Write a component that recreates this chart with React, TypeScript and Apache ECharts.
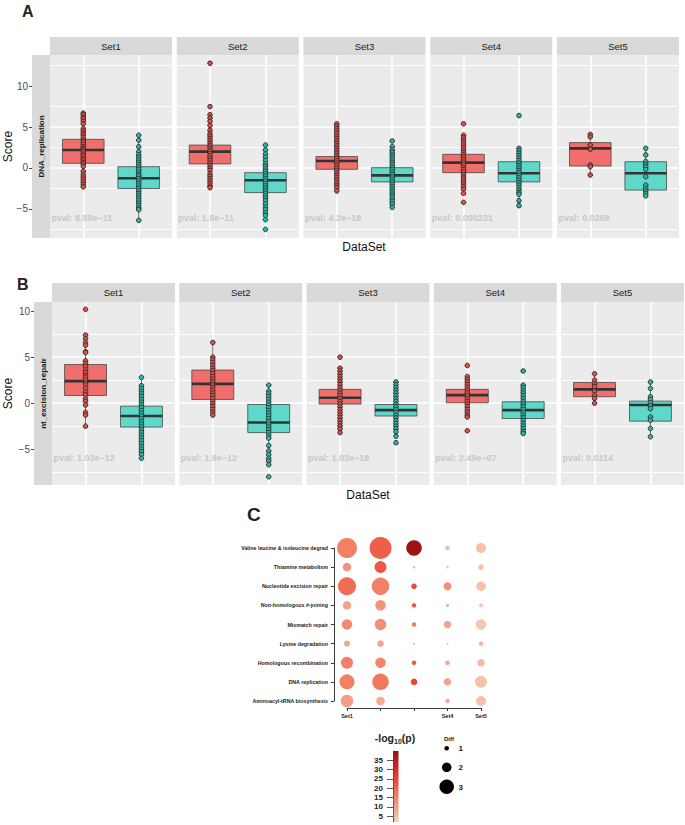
import React, { useEffect, useRef } from 'react';
import * as echarts from 'echarts';

// ---------------- data ----------------
const SETS = ['Set1', 'Set2', 'Set3', 'Set4', 'Set5'];
const GROUP_POS = [1, 2]; // red group, teal group

const A_ROW_LABEL = 'DNA_replication';
const B_ROW_LABEL = 'nt_excision_repair';
const Y_TICKS = [-5, 0, 5, 10];

const A_PVAL = ['pval: 8.88e\u221211', 'pval: 1.8e\u221211', 'pval: 4.2e\u221218', 'pval: 0.000231', 'pval: 0.0268'];
const B_PVAL = ['pval: 1.03e\u221212', 'pval: 1.9e\u221212', 'pval: 1.03e\u221218', 'pval: 2.49e\u221207', 'pval: 0.0114'];

// box stats [low whisker, q1, median, q3, high whisker]
const A_BOX_RED = [
  [-2.3, 0.57, 2.2, 3.5, 6.7],
  [-2.4, 0.5, 2.0, 2.8, 6.1],
  [-2.5, -0.16, 0.85, 1.4, 3.7],
  [-3.1, -0.57, 0.65, 1.67, 4.0],
  [-0.85, 0.24, 2.4, 3.1, 4.1],
];
const A_BOX_TEAL = [
  [-6.4, -2.5, -1.26, 0.16, 4.0],
  [-6.3, -3.0, -1.5, -0.57, 2.8],
  [-4.2, -1.7, -0.9, 0.04, 2.6],
  [-4.6, -1.7, -0.65, 0.77, 2.4],
  [-3.4, -2.7, -0.65, 0.77, 2.4],
];
const A_PTS_RED = [
  [6.7, 6.5, 6.2, 6.0, 5.7, 5.4, 4.8, 4.5, 4.2, 4.0, 3.7, 3.4, 3.2, 2.9, 2.6, 2.4, 2.2, 2.0, 1.7, 1.5, 1.2, 1.0, 0.7, 0.5, 0.2, -0.4, -0.8, -1.1, -1.4, -1.7, -2.0, -2.3],
  [12.8, 7.5, 6.5, 6.1, 5.7, 5.2, 4.6, 4.2, 3.9, 3.6, 3.3, 3.0, 2.7, 2.4, 2.1, 1.8, 1.5, 1.2, 0.9, 0.6, 0.3, 0.0, -0.3, -0.7, -1.0, -1.3, -1.6, -1.9, -2.2, -2.4],
  [5.4, 5.1, 4.8, 4.5, 4.2, 3.9, 3.6, 3.3, 3.0, 2.7, 2.4, 2.1, 1.8, 1.5, 1.2, 0.9, 0.6, 0.3, 0.0, -0.3, -0.6, -0.9, -1.2, -1.5, -1.8, -2.1, -2.4, -2.8],
  [5.4, 4.0, 3.7, 3.4, 3.1, 2.8, 2.5, 2.2, 1.9, 1.6, 1.3, 1.0, 0.7, 0.4, 0.1, -0.2, -0.5, -0.8, -1.1, -1.4, -1.7, -2.0, -2.3, -2.6, -3.1, -4.2],
  [4.1, 3.8, 2.8, 2.3, 0.37, 0.16, -0.85],
];
const A_PTS_TEAL = [
  [4.0, 3.4, 2.6, 2.0, 1.6, 1.3, 1.0, 0.7, 0.4, 0.1, -0.2, -0.5, -0.8, -1.0, -1.3, -1.6, -1.9, -2.2, -2.5, -2.8, -3.1, -3.4, -3.7, -4.0, -4.3, -4.6, -4.9, -5.1, -6.4],
  [2.8, 2.2, 1.7, 1.3, 0.9, 0.5, 0.2, -0.1, -0.4, -0.7, -1.0, -1.3, -1.6, -1.9, -2.2, -2.5, -2.8, -3.1, -3.4, -3.7, -4.0, -4.4, -4.8, -5.1, -5.5, -5.8, -6.3, -7.5],
  [3.3, 2.6, 2.2, 1.9, 1.6, 1.3, 1.0, 0.7, 0.4, 0.1, -0.2, -0.5, -0.8, -1.1, -1.4, -1.7, -2.0, -2.3, -2.6, -2.9, -3.2, -3.5, -3.8, -4.1, -4.4, -4.8],
  [6.4, 2.4, 2.1, 1.8, 1.5, 1.2, 0.9, 0.6, 0.3, 0.0, -0.3, -0.6, -0.9, -1.2, -1.5, -1.8, -2.1, -2.4, -2.7, -3.0, -3.2, -4.0, -4.6],
  [2.4, 1.6, 0.8, 0.45, 0.16, -0.17, -1.06, -2.1, -2.5, -2.8, -3.1, -3.4],
];

const B_BOX_RED = [
  [-2.5, 0.83, 2.4, 4.2, 7.3],
  [-1.3, 0.4, 2.1, 3.6, 6.6],
  [-2.4, -0.1, 0.58, 1.5, 3.8],
  [-1.5, 0.04, 0.87, 1.5, 2.9],
  [0.0, 0.7, 1.5, 2.25, 3.2],
];
const B_BOX_TEAL = [
  [-6.0, -2.6, -1.4, -0.33, 2.8],
  [-6.7, -3.2, -2.1, -0.15, 1.96],
  [-3.2, -1.4, -0.76, -0.15, 1.7],
  [-3.3, -1.67, -0.76, 0.15, 1.96],
  [-3.65, -1.96, -0.2, 0.22, 2.3],
];
const B_PTS_RED = [
  [10.2, 7.4, 7.0, 6.6, 6.3, 5.6, 5.5, 4.6, 4.3, 4.0, 3.6, 3.3, 3.0, 2.8, 2.5, 2.2, 2.0, 1.6, 1.2, 0.9, 0.5, 0.2, -0.2, -1.0, -1.3, -2.5],
  [6.6, 5.0, 4.7, 4.4, 4.1, 3.8, 3.5, 3.2, 2.9, 2.6, 2.3, 2.0, 1.7, 1.4, 1.1, 0.8, 0.5, 0.2, -0.1, -0.4, -0.7, -1.0, -1.3],
  [5.0, 3.8, 3.5, 3.2, 2.9, 2.6, 2.3, 2.0, 1.7, 1.4, 1.1, 0.8, 0.5, 0.2, -0.1, -0.4, -0.7, -1.0, -1.3, -1.6, -1.9, -2.2, -2.5, -2.8, -3.2],
  [4.1, 2.9, 2.6, 2.3, 2.0, 1.7, 1.4, 1.1, 0.8, 0.5, 0.2, -0.1, -0.4, -0.7, -1.0, -1.3, -1.5, -3.0],
  [3.2, 2.5, 2.1, 1.8, 1.3, 0.87, 0.5, 0.0],
];
const B_PTS_TEAL = [
  [2.8, 1.9, 1.6, 1.3, 1.0, 0.7, 0.4, 0.1, -0.2, -0.5, -0.8, -1.1, -1.4, -1.7, -2.0, -2.3, -2.6, -2.9, -3.2, -3.5, -3.8, -4.1, -4.4, -4.7, -5.0, -5.3, -5.6, -6.0],
  [1.96, 1.3, 1.0, 0.7, 0.4, 0.1, -0.2, -0.5, -0.8, -1.1, -1.4, -1.7, -2.0, -2.3, -2.6, -2.9, -3.2, -3.5, -3.8, -4.6, -5.2, -5.6, -6.0, -6.3, -6.7, -8.0],
  [2.3, 2.0, 1.7, 1.4, 1.1, 0.8, 0.5, 0.2, -0.1, -0.4, -0.7, -1.0, -1.3, -1.6, -1.9, -2.2, -2.5, -2.8, -3.1, -3.6, -4.3],
  [3.5, 1.96, 1.7, 1.4, 1.1, 0.8, 0.5, 0.2, -0.1, -0.4, -0.7, -1.0, -1.3, -1.6, -1.9, -2.2, -2.5, -2.8, -3.1, -3.3],
  [2.3, 1.6, 0.7, 0.4, 0.04, -0.3, -0.6, -1.5, -1.85, -2.75, -3.65],
];

// panel C (rows listed top to bottom)
const PATHWAYS = [
  'Valine leucine & isoleucine degrad',
  'Thiamine metabolism',
  'Nucleotide excision repair',
  'Non-homologous #-joining',
  'Mismatch repair',
  'Lysine degradation',
  'Homologous recombination',
  'DNA replication',
  'Aminoacyl-tRNA biosynthesis',
];
const C_X_TICKS = ['Set1', '', '', 'Set4', 'Set5'];
const C_LOGP = [
  [16, 21, 39, 5, 4],
  [12, 22, 5, 4, 4],
  [19, 16, 24, 13, 4],
  [9, 12, 22, 8, 3],
  [14, 13, 17, 9, 3],
  [9, 9, 5, 5, 6],
  [16, 15, 22, 9, 5],
  [16, 17, 25, 9, 4],
  [10, 8, 4, 8, 4],
];
const C_DIFF = [
  [4.1, 4.5, 3.2, 1.0, 2.1],
  [1.8, 2.5, 0.6, 0.6, 1.2],
  [3.7, 3.6, 1.2, 1.7, 2.0],
  [1.8, 2.2, 1.0, 0.7, 0.9],
  [2.2, 2.4, 1.0, 1.6, 2.2],
  [1.3, 1.4, 0.5, 0.5, 1.0],
  [2.5, 2.2, 1.0, 1.0, 1.6],
  [3.1, 3.4, 1.4, 1.6, 2.5],
  [2.6, 1.8, 0.35, 1.0, 2.1],
];
const LOGP_RANGE = [1.8, 40];
const CB_TICKS = [5, 10, 15, 20, 25, 30, 35];
const DIFF_LEGEND = [1, 2, 3];

// ---------------- styles ----------------
const FONT = '"Liberation Sans", Arial, Helvetica, sans-serif';
const BOX_RED = '#F06E6B';
const BOX_TEAL = '#5DD8C9';
const PT_RED = '#DE4F4A';
const PT_TEAL = '#2DB5A4';
const STRIP = '#D9D9D9';
const PANEL_BG = '#EBEBEB';
const SCALE_COLORS = ['#F7CDB8', '#F3A189', '#F07A60', '#EC4533', '#C82421', '#951010'];
const BOX_WIDTH = 0.75;

const dotSize = (d: number) => Math.max(1, 5 * d - 0.5);

const PANELS = [
  {
    letter: 'A', letterX: 22, letterY: 11, top: 55, height: 183, left0: 50, step: 126.75, width: 122, stripH: 18,
    ymin: -8.55, ymax: 13.8, pvalY: -6.1, titleY: 247, titleX: 364,
    row: A_ROW_LABEL, pval: A_PVAL, boxRed: A_BOX_RED, boxTeal: A_BOX_TEAL, ptsRed: A_PTS_RED, ptsTeal: A_PTS_TEAL,
  },
  {
    letter: 'B', letterX: 17, letterY: 284, top: 302, height: 183, left0: 52, step: 127.25, width: 123, stripH: 19,
    ymin: -8.9, ymax: 11.0, pvalY: -6.0, titleY: 495, titleX: 368,
    row: B_ROW_LABEL, pval: B_PVAL, boxRed: B_BOX_RED, boxTeal: B_BOX_TEAL, ptsRed: B_PTS_RED, ptsTeal: B_PTS_TEAL,
  },
];

const renderBox = (params: any, api: any) => {
  const x = api.value(0);
  const pLo = api.coord([x, api.value(1)]);
  const pQ1 = api.coord([x, api.value(2)]);
  const pMd = api.coord([x, api.value(3)]);
  const pQ3 = api.coord([x, api.value(4)]);
  const pHi = api.coord([x, api.value(5)]);
  const w = api.size([BOX_WIDTH, 0])[0];
  const fill = params.dataIndex === 0 ? BOX_RED : BOX_TEAL;
  const stroke = '#474747';
  return {
    type: 'group',
    children: [
      { type: 'line', shape: { x1: pLo[0], y1: pLo[1], x2: pQ1[0], y2: pQ1[1] }, style: { stroke, lineWidth: 0.8 } },
      { type: 'line', shape: { x1: pQ3[0], y1: pQ3[1], x2: pHi[0], y2: pHi[1] }, style: { stroke, lineWidth: 0.8 } },
      { type: 'rect', shape: { x: pQ3[0] - w / 2, y: pQ3[1], width: w, height: pQ1[1] - pQ3[1] }, style: { fill, stroke, lineWidth: 0.8 } },
      { type: 'line', shape: { x1: pMd[0] - w / 2, y1: pMd[1], x2: pMd[0] + w / 2, y2: pMd[1] }, style: { stroke: '#333333', lineWidth: 2.6 } },
    ],
  };
};

function buildOption() {
  const grid: any[] = [];
  const xAxis: any[] = [];
  const yAxis: any[] = [];
  const series: any[] = [];
  const graphic: any[] = [];

  PANELS.forEach((P, p) => {
    graphic.push({
      type: 'text', x: P.letterX, y: P.letterY,
      style: { text: P.letter, fontSize: 16, fontWeight: 'bold', fontFamily: FONT, fill: '#222', align: 'left', verticalAlign: 'middle' },
    });
    // left strip
    graphic.push({ type: 'rect', shape: { x: P.left0 - 18, y: P.top, width: 18, height: P.height }, style: { fill: STRIP } });
    graphic.push({
      type: 'text', x: P.left0 - 9, y: P.top + P.height / 2, rotation: Math.PI / 2,
      style: { text: P.row, fontSize: 8, fontWeight: 'bold', fontFamily: FONT, fill: '#1A1A1A', align: 'center', verticalAlign: 'middle' },
    });
    graphic.push({
      type: 'text', x: 8, y: P.top + P.height / 2, rotation: Math.PI / 2,
      style: { text: 'Score', fontSize: 12, fontFamily: FONT, fill: '#111', align: 'center', verticalAlign: 'middle' },
    });
    graphic.push({
      type: 'text', x: P.titleX, y: P.titleY,
      style: { text: 'DataSet', fontSize: 12, fontFamily: FONT, fill: '#111', align: 'center', verticalAlign: 'middle' },
    });

    SETS.forEach((setName, i) => {
      const g = p * 5 + i;
      const left = P.left0 + i * P.step;
      grid.push({ left, top: P.top, width: P.width, height: P.height, show: true, backgroundColor: PANEL_BG, borderWidth: 0 });
      graphic.push({ type: 'rect', shape: { x: left, y: P.top - P.stripH, width: P.width, height: P.stripH }, style: { fill: STRIP } });
      graphic.push({
        type: 'text', x: left + P.width / 2, y: P.top - P.stripH / 2,
        style: { text: setName, fontSize: 9.5, fontFamily: FONT, fill: '#1A1A1A', align: 'center', verticalAlign: 'middle' },
      });
      xAxis.push({
        gridIndex: g, type: 'value', min: 0.4, max: 2.6, splitNumber: 2,
        axisLine: { show: false }, axisTick: { show: false }, axisLabel: { show: false },
        splitLine: { show: true, showMinLine: false, showMaxLine: false, lineStyle: { color: '#FFFFFF', width: 1.6 } },
      });
      yAxis.push({
        gridIndex: g, type: 'value', min: P.ymin, max: P.ymax, splitNumber: 4, offset: i === 0 ? 18 : 0,
        axisLine: { show: false },
        axisTick: { show: i === 0, length: 3, customValues: Y_TICKS, lineStyle: { color: '#333', width: 0.9 } },
        axisLabel: {
          show: i === 0, customValues: Y_TICKS, margin: 4, color: '#4D4D4D', fontSize: 10, fontFamily: FONT,
          formatter: (v: number) => String(v).replace('-', '\u2212'),
        },
        splitLine: { show: true, showMinLine: false, showMaxLine: false, lineStyle: { color: '#FFFFFF', width: 1.6 } },
        minorTick: { show: false, splitNumber: 2 },
        minorSplitLine: { show: true, lineStyle: { color: '#FFFFFF', width: 0.9 } },
      });
      series.push({
        type: 'custom', xAxisIndex: g, yAxisIndex: g, renderItem: renderBox, silent: true, z: 2,
        encode: { x: 0, y: [1, 2, 3, 4, 5] },
        data: [[GROUP_POS[0], ...P.boxRed[i]], [GROUP_POS[1], ...P.boxTeal[i]]],
      });
      series.push({
        type: 'scatter', xAxisIndex: g, yAxisIndex: g, silent: true, z: 3, symbolSize: 4.6,
        itemStyle: { color: PT_RED, borderColor: '#262626', borderWidth: 0.9, opacity: 1 },
        data: P.ptsRed[i].map((v) => [GROUP_POS[0], v]),
      });
      series.push({
        type: 'scatter', xAxisIndex: g, yAxisIndex: g, silent: true, z: 3, symbolSize: 4.6,
        itemStyle: { color: PT_TEAL, borderColor: '#262626', borderWidth: 0.9, opacity: 1 },
        data: P.ptsTeal[i].map((v) => [GROUP_POS[1], v]),
      });
      series.push({
        type: 'scatter', xAxisIndex: g, yAxisIndex: g, silent: true, z: 4, symbolSize: 1,
        itemStyle: { color: 'rgba(0,0,0,0)' },
        label: {
          show: true, position: 'right', distance: 1, formatter: P.pval[i],
          color: '#BDBDBD', fontSize: 9, fontWeight: 'bold', fontFamily: FONT,
        },
        data: [[0.4, P.pvalY]],
      });
    });
  });

  // ---------- panel C ----------
  const gC = 10;
  grid.push({ left: 347, top: 548, width: 134, height: 153 });
  xAxis.push({
    gridIndex: gC, type: 'category', data: SETS, boundaryGap: false, offset: 7,
    axisLine: { show: true, lineStyle: { color: '#3A3A3A', width: 1 } },
    axisTick: { show: true, length: 3, lineStyle: { color: '#3A3A3A', width: 1 } },
    axisLabel: { formatter: (_v: string, idx: number) => C_X_TICKS[idx], fontSize: 5.5, fontWeight: 'bold', color: '#222', fontFamily: FONT, margin: 5 },
    splitLine: { show: false },
  });
  yAxis.push({
    gridIndex: gC, type: 'category', data: [...PATHWAYS].reverse(), boundaryGap: false, offset: 13,
    axisLine: { show: true, lineStyle: { color: '#3A3A3A', width: 1 } },
    axisTick: { show: true, length: 3, lineStyle: { color: '#3A3A3A', width: 1 } },
    axisLabel: { fontSize: 5.3, fontWeight: 'bold', color: '#222', fontFamily: FONT, margin: 6 },
    splitLine: { show: false },
  });
  const cData: any[] = [];
  PATHWAYS.forEach((pw, r) => {
    SETS.forEach((s, c) => {
      cData.push([s, pw, C_LOGP[r][c], C_DIFF[r][c]]);
    });
  });
  const cSeriesIndex = series.length;
  series.push({
    type: 'scatter', xAxisIndex: gC, yAxisIndex: gC, silent: true, z: 3,
    symbolSize: (v: any[]) => dotSize(v[3]),
    itemStyle: { opacity: 1 },
    data: cData,
  });

  // ---------- color bar ----------
  const gCB = 11;
  const stops = SCALE_COLORS.map((c, k) => ({ offset: 1 - k / (SCALE_COLORS.length - 1), color: c }));
  grid.push({
    left: 393, top: 751, width: 5.5, height: 71, show: true, borderWidth: 0,
    backgroundColor: new echarts.graphic.LinearGradient(0, 0, 0, 1, stops.slice().reverse()),
  });
  xAxis.push({ gridIndex: gCB, type: 'value', show: false, min: 0, max: 1 });
  yAxis.push({
    gridIndex: gCB, type: 'value', min: LOGP_RANGE[0], max: LOGP_RANGE[1], splitNumber: 7,
    axisLine: { show: true, lineStyle: { color: '#444', width: 0.8 } },
    axisTick: { show: true, length: 6, customValues: CB_TICKS, lineStyle: { color: '#444', width: 0.9 } },
    axisLabel: { customValues: CB_TICKS, margin: 10, fontSize: 8, fontWeight: 'bold', color: '#222', fontFamily: FONT },
    splitLine: { show: false },
  });
  series.push({ type: 'scatter', xAxisIndex: gCB, yAxisIndex: gCB, data: [], silent: true });

  graphic.push({
    type: 'text', x: 247, y: 514,
    style: { text: 'C', fontSize: 19, fontWeight: 'bold', fontFamily: FONT, fill: '#222', align: 'left', verticalAlign: 'middle' },
  });
  graphic.push({
    type: 'text', x: 395, y: 738,
    style: {
      text: '{a|-log}{b|10}{a|(p)}', align: 'center', verticalAlign: 'middle', fontFamily: FONT,
      rich: {
        a: { fontSize: 10.5, fontWeight: 'bold', fill: '#222', fontFamily: FONT, lineHeight: 13, verticalAlign: 'middle' },
        b: { fontSize: 7, fontWeight: 'bold', fill: '#222', fontFamily: FONT, lineHeight: 13, verticalAlign: 'bottom' },
      },
    },
  });
  graphic.push({
    type: 'text', x: 449, y: 739,
    style: { text: 'Diff', fontSize: 6, fontWeight: 'bold', fontFamily: FONT, fill: '#222', align: 'center', verticalAlign: 'middle' },
  });
  const legY = [748.3, 767.3, 786.7];
  DIFF_LEGEND.forEach((v, k) => {
    graphic.push({ type: 'circle', shape: { cx: 446.7, cy: legY[k], r: dotSize(v) / 2 }, style: { fill: '#000' } });
    graphic.push({
      type: 'text', x: 458.5, y: legY[k] + 0.5,
      style: { text: String(v), fontSize: 8, fontWeight: 'bold', fontFamily: FONT, fill: '#222', align: 'left', verticalAlign: 'middle' },
    });
  });

  return {
    animation: false,
    backgroundColor: '#FFFFFF',
    textStyle: { fontFamily: FONT },
    grid, xAxis, yAxis, series, graphic,
    visualMap: [{
      type: 'continuous', show: false, seriesIndex: cSeriesIndex, dimension: 2,
      min: LOGP_RANGE[0], max: LOGP_RANGE[1], inRange: { color: SCALE_COLORS },
    }],
  };
}

export default function App() {
  const ref = useRef<HTMLDivElement>(null);
  useEffect(() => {
    if (!ref.current) return;
    const chart = echarts.init(ref.current, null, { renderer: 'svg' });
    chart.setOption(buildOption() as any);
    return () => chart.dispose();
  }, []);
  return <div ref={ref} style={{ position: 'absolute', left: 0, top: 0, width: 685, height: 825, background: '#fff' }} />;
}
